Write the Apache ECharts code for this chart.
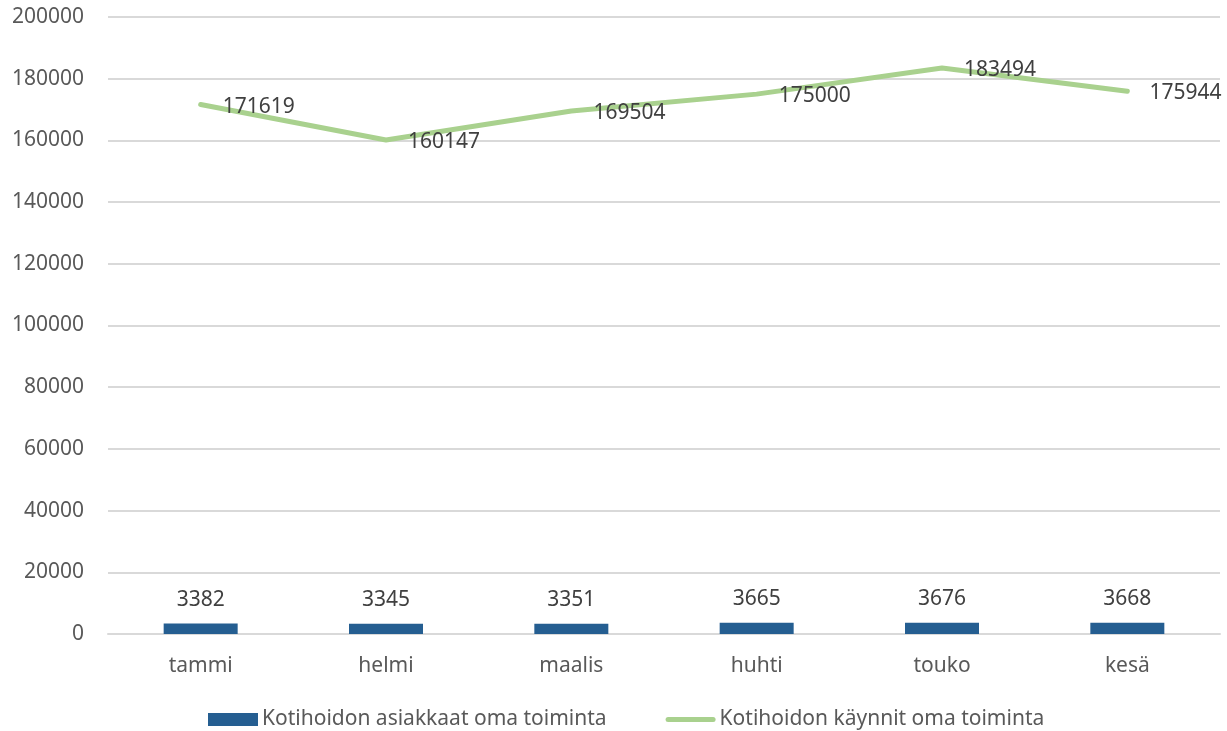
<!DOCTYPE html>
<html>
<head>
    <meta charset="utf-8">
    <title>Kotihoito</title>
    <script src="https://cdn.jsdelivr.net/npm/echarts@6/dist/echarts.min.js"></script>
    <style>
        html, body { margin: 0; padding: 0; background: #fff; }
        #main { width: 1227px; height: 731px; }
    </style>
</head>
<body>
    <div id="main"></div>
    <script type="text/javascript">
        var months = ['tammi', 'helmi', 'maalis', 'huhti', 'touko', 'kesä'];
        var asiakkaat = [3382, 3345, 3351, 3665, 3676, 3668];
        var kaynnit = [171619, 160147, 169504, 175000, 183494, 175944];

        var font = 'Noto Sans';
        var fs = 21;
        var chart = echarts.init(document.getElementById('main'));

        var option = {
            animation: false,
            textStyle: { fontFamily: font },
            grid: { left: 108, right: 7, top: 17, bottom: 97 },
            legend: {
                bottom: -4,
                left: 203,
                itemWidth: 50,
                itemHeight: 13,
                itemGap: 59,
                textStyle: { fontSize: fs, color: '#595959', fontFamily: font, padding: [0, 0, 0, -1] },
                data: [
                    { name: 'Kotihoidon asiakkaat oma toiminta', icon: 'rect' },
                    {
                        name: 'Kotihoidon käynnit oma toiminta',
                        icon: 'path://M2.5,0 L47.5,0 A2.5,2.5 0 0 1 47.5,5 L2.5,5 A2.5,2.5 0 0 1 2.5,0 Z',
                        itemStyle: { color: '#a9d18e' }
                    }
                ]
            },
            xAxis: {
                type: 'category',
                data: months,
                axisLine: { lineStyle: { color: '#d9d9d9', width: 2 } },
                axisTick: { show: false },
                axisLabel: { fontSize: fs, color: '#595959', margin: 22 }
            },
            yAxis: {
                type: 'value',
                min: 0,
                max: 200000,
                interval: 20000,
                axisLine: { show: false },
                axisTick: { show: false },
                axisLabel: {
                    fontSize: fs,
                    color: '#595959',
                    margin: 24,
                    formatter: function (v) { return String(v); }
                },
                splitLine: { lineStyle: { color: '#d9d9d9', width: 2 } }
            },
            series: [{
                name: 'Kotihoidon asiakkaat oma toiminta',
                type: 'bar',
                data: asiakkaat,
                barWidth: 74,
                itemStyle: { color: '#255e91' },
                label: {
                    show: true,
                    position: 'top',
                    distance: 13,
                    fontSize: fs,
                    color: '#404040'
                }
            }, {
                name: 'Kotihoidon käynnit oma toiminta',
                type: 'line',
                data: kaynnit,
                symbol: 'circle',
                symbolSize: 0.1,
                showSymbol: true,
                lineStyle: { color: '#a9d18e', width: 5, cap: 'round' },
                itemStyle: { color: '#a9d18e' },
                label: {
                    show: true,
                    position: 'right',
                    distance: 22,
                    offset: [0, 2],
                    fontSize: fs,
                    color: '#404040'
                }
            }]
        };

        chart.setOption(option);
    </script>
</body>
</html>
